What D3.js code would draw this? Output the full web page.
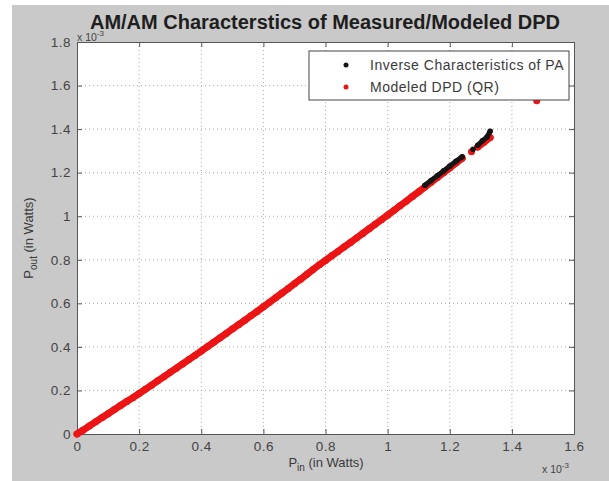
<!DOCTYPE html>
<html>
<head>
<meta charset="utf-8">
<script src="https://cdn.jsdelivr.net/npm/d3@7"></script>
<style>
  body { margin: 0; background: #fff; }
  svg { display: block; font-family: "Liberation Sans", Arial, sans-serif; }
</style>
</head>
<body>
<svg id="chart"></svg>
<script>
// values in units of 1e-3 W
const X_TICKS = [0, 0.2, 0.4, 0.6, 0.8, 1, 1.2, 1.4, 1.6];
const Y_TICKS = [0, 0.2, 0.4, 0.6, 0.8, 1, 1.2, 1.4, 1.6, 1.8];

const modeledIn = [0, 0.02, 0.04, 0.06, 0.08, 0.10, 0.12, 0.14, 0.16, 0.18,
    0.20, 0.22, 0.24, 0.26, 0.28, 0.30, 0.32, 0.34, 0.36, 0.38,
    0.40, 0.42, 0.44, 0.46, 0.48, 0.50, 0.52, 0.54, 0.56, 0.58,
    0.60, 0.62, 0.64, 0.66, 0.68, 0.70, 0.72, 0.74, 0.76, 0.78,
    0.80, 0.82, 0.84, 0.86, 0.88, 0.90, 0.92, 0.94, 0.96, 0.98,
    1.00, 1.02, 1.04, 1.06, 1.08, 1.10, 1.12, 1.14, 1.16, 1.18,
    1.20, 1.22, 1.24, 1.27, 1.29, 1.31, 1.33, 1.48];
const modeledOut = [0, 0.018, 0.037, 0.056, 0.075, 0.093, 0.112, 0.131, 0.149, 0.167,
    0.186, 0.205, 0.224, 0.244, 0.263, 0.283, 0.302, 0.322, 0.342, 0.361,
    0.381, 0.401, 0.421, 0.441, 0.461, 0.482, 0.502, 0.522, 0.543, 0.563,
    0.584, 0.605, 0.626, 0.647, 0.668, 0.690, 0.711, 0.733, 0.755, 0.777,
    0.797, 0.818, 0.838, 0.859, 0.879, 0.900, 0.921, 0.942, 0.963, 0.984,
    1.005, 1.026, 1.048, 1.069, 1.091, 1.112, 1.134, 1.156, 1.178, 1.200,
    1.222, 1.244, 1.266, 1.296, 1.318, 1.340, 1.362, 1.530];

const inverseIn = [1.12, 1.14, 1.16, 1.18, 1.20, 1.22, 1.24, 1.275, 1.29, 1.305, 1.32, 1.33];
const inverseOut = [1.142, 1.164, 1.186, 1.208, 1.230, 1.252, 1.273, 1.307, 1.326, 1.346, 1.364, 1.390];

const LEGEND_LABELS = ["Inverse Characteristics of PA", "Modeled DPD (QR)"];

const WIDTH = 609, HEIGHT = 481;
const PLOT = { left: 77, right: 574, top: 42, bottom: 434 };
const TEXT_COLOR = "#3a3a3a";
const RED = "#ec1414";

const svg = d3.select("#chart").attr("width", WIDTH).attr("height", HEIGHT);

svg.append("rect").attr("width", WIDTH).attr("height", HEIGHT).attr("fill", "#fff");
svg.append("rect").attr("x", 12).attr("y", 5)
    .attr("width", WIDTH - 12).attr("height", HEIGHT - 5).attr("fill", "#c9c9c9");

const xScale = d3.scaleLinear().domain([0, 1.6]).range([PLOT.left, PLOT.right]);
const yScale = d3.scaleLinear().domain([0, 1.8]).range([PLOT.bottom, PLOT.top]);

svg.append("rect")
    .attr("x", PLOT.left).attr("y", PLOT.top)
    .attr("width", PLOT.right - PLOT.left).attr("height", PLOT.bottom - PLOT.top)
    .attr("fill", "#fff");

// grid
const grid = svg.append("g").attr("stroke", "#aaa").attr("stroke-dasharray", "1,3");
grid.selectAll(".vgrid").data(X_TICKS.slice(1, -1)).enter().append("line")
    .attr("x1", d => xScale(d)).attr("x2", d => xScale(d))
    .attr("y1", PLOT.top).attr("y2", PLOT.bottom);
grid.selectAll(".hgrid").data(Y_TICKS.slice(1, -1)).enter().append("line")
    .attr("y1", d => yScale(d)).attr("y2", d => yScale(d))
    .attr("x1", PLOT.left).attr("x2", PLOT.right);

// axes with inward ticks
const fmt = d => d3.format("")(+d.toFixed(1));
const xAxis = d3.axisBottom(xScale).tickValues(X_TICKS).tickSize(-5).tickPadding(7).tickFormat(fmt);
const yAxis = d3.axisLeft(yScale).tickValues(Y_TICKS).tickSize(-5).tickPadding(6).tickFormat(fmt);

svg.append("g").attr("transform", `translate(0,${PLOT.bottom})`).call(xAxis);
svg.append("g").attr("transform", `translate(${PLOT.left},0)`).call(yAxis);
svg.append("g").attr("transform", `translate(0,${PLOT.top})`)
    .call(d3.axisTop(xScale).tickValues(X_TICKS).tickSize(-5).tickFormat(""));
svg.append("g").attr("transform", `translate(${PLOT.right},0)`)
    .call(d3.axisRight(yScale).tickValues(Y_TICKS).tickSize(-5).tickFormat(""));

svg.selectAll(".domain").attr("stroke", "#555");
svg.selectAll(".tick line").attr("stroke", "#555");
svg.selectAll(".tick text").attr("fill", "#444").style("font-size", "13.5px").style("letter-spacing", "0.5px");
svg.selectAll("g").attr("font-family", null);

// dense markers merge into a band: join neighbours, break at gaps
function drawSeries(xs, ys, color, width, r) {
    const pts = xs.map((d, i) => [d, ys[i]]);
    const line = d3.line()
        .x(d => xScale(d[0])).y(d => yScale(d[1]))
        .defined((d, i) => i === 0 || d[0] - pts[i - 1][0] < 0.025);
    const g = svg.append("g");
    g.append("path").datum(pts).attr("d", line)
        .attr("fill", "none").attr("stroke", color)
        .attr("stroke-width", width).attr("stroke-linecap", "round");
    g.selectAll("circle").data(pts).enter().append("circle")
        .attr("cx", d => xScale(d[0])).attr("cy", d => yScale(d[1]))
        .attr("r", r).attr("fill", color);
}
drawSeries(modeledIn, modeledOut, RED, 7, 3.5);
drawSeries(inverseIn, inverseOut, "#151515", 5, 2.8);

// exponent labels
function expLabel(x, y) {
    const t = svg.append("text").attr("x", x).attr("y", y)
        .attr("fill", "#444").style("font-size", "10.5px");
    t.append("tspan").text("x 10");
    t.append("tspan").attr("dy", -5).style("font-size", "8px").text("-3");
}
expLabel(77, 40.5);
expLabel(542, 473);

// title
svg.append("text")
    .attr("x", 325).attr("y", 29)
    .attr("text-anchor", "middle")
    .attr("fill", "#1e1e1e")
    .style("font-size", "20px")
    .style("font-weight", "bold")
    .text("AM/AM Characterstics of Measured/Modeled DPD");

// axis labels
const xLabel = svg.append("text").attr("x", 326).attr("y", 467)
    .attr("text-anchor", "middle").attr("fill", TEXT_COLOR).style("font-size", "13px");
xLabel.append("tspan").text("P");
xLabel.append("tspan").attr("dy", 4).style("font-size", "10px").text("in");
xLabel.append("tspan").attr("dy", -4).text(" (in Watts)");

const yLabel = svg.append("text")
    .attr("transform", `translate(33,${(PLOT.top + PLOT.bottom) / 2}) rotate(-90)`)
    .attr("text-anchor", "middle").attr("fill", TEXT_COLOR).style("font-size", "13px");
yLabel.append("tspan").text("P");
yLabel.append("tspan").attr("dy", 4).style("font-size", "10px").text("out");
yLabel.append("tspan").attr("dy", -4).text(" (in Watts)");

// legend
const legend = svg.append("g");
legend.append("rect").attr("x", 309).attr("y", 51).attr("width", 260).attr("height", 49)
    .attr("fill", "#fff").attr("stroke", "#444");
const legendColors = ["#151515", RED];
LEGEND_LABELS.forEach((label, i) => {
    legend.append("circle").attr("cx", 346).attr("cy", 65 + i * 22).attr("r", 2.5).attr("fill", legendColors[i]);
    legend.append("text").attr("x", 370).attr("y", 70 + i * 22)
        .attr("fill", TEXT_COLOR).style("font-size", "14px").style("letter-spacing", "0.5px")
        .text(label);
});
</script>
</body>
</html>
